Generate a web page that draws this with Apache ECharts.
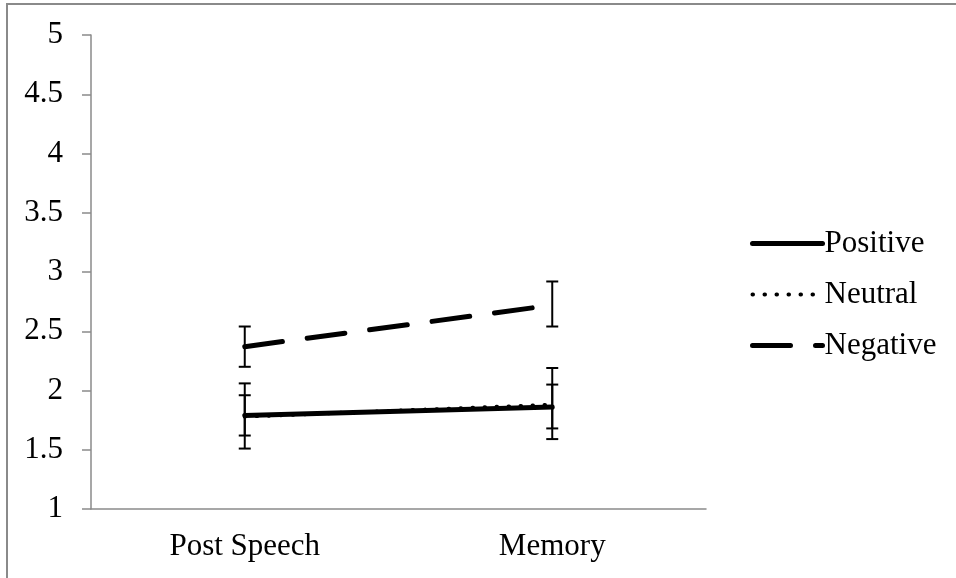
<!DOCTYPE html>
<html>
<head>
<meta charset="utf-8">
<script src="https://cdn.jsdelivr.net/npm/echarts@6/dist/echarts.min.js"></script>
<style>
  html, body { margin: 0; padding: 0; background: #fff; }
  #chart { width: 956px; height: 578px; }
</style>
</head>
<body>
<div id="chart"></div>
<script>
// ---- data ----
const categories = ['Post Speech', 'Memory'];
const seriesNames = ['Positive', 'Neutral', 'Negative'];
const positive = [1.79, 1.86];
const neutral = [1.78, 1.88];
const negative = [2.37, 2.72];
const positiveLow = [1.62, 1.68];
const positiveHigh = [1.96, 2.05];
const neutralLow = [1.51, 1.59];
const neutralHigh = [2.06, 2.19];
const negativeLow = [2.20, 2.54];
const negativeHigh = [2.54, 2.92];
const yMin = 1, yMax = 5, yInterval = 0.5;

const FONT = 'Liberation Serif, Times New Roman, serif';
const AXIS_GREY = '#8a8a8a';

function errData(lows, highs) {
  return categories.map((c, i) => [i, lows[i], highs[i]]);
}

function renderErr(params, api) {
  const x = api.value(0);
  const lo = api.coord([x, api.value(1)]);
  const hi = api.coord([x, api.value(2)]);
  const hw = 6;
  const st = { stroke: '#000', lineWidth: 2 };
  return {
    type: 'group',
    children: [
      { type: 'line', shape: { x1: lo[0], y1: lo[1], x2: hi[0], y2: hi[1] }, style: st },
      { type: 'line', shape: { x1: lo[0] - hw, y1: lo[1], x2: lo[0] + hw, y2: lo[1] }, style: st },
      { type: 'line', shape: { x1: hi[0] - hw, y1: hi[1], x2: hi[0] + hw, y2: hi[1] }, style: st }
    ]
  };
}

const chart = echarts.init(document.getElementById('chart'), null, { renderer: 'canvas' });

const option = {
  animation: false,
  backgroundColor: '#fff',
  textStyle: { fontFamily: FONT },
  graphic: [{
    type: 'polyline',
    shape: { points: [[7, 578], [7, 4], [956, 4]] },
    style: { stroke: AXIS_GREY, lineWidth: 2, fill: null },
    silent: true
  }],
  grid: { left: 91, right: 250, top: 35, bottom: 69 },
  legend: {
    data: seriesNames,
    orient: 'vertical',
    left: 745,
    top: 223,
    itemWidth: 70,
    itemHeight: 14,
    itemGap: 20,
    itemStyle: { opacity: 0 },
    lineStyle: { width: 'inherit', type: 'inherit', cap: 'round' },
    textStyle: { fontFamily: FONT, fontSize: 31, color: '#000', lineHeight: 31, padding: [0, 0, 0, -3] }
  },
  xAxis: {
    type: 'category',
    data: categories,
    boundaryGap: true,
    axisLine: { lineStyle: { color: AXIS_GREY, width: 1.5 } },
    axisTick: { length: 8, lineStyle: { color: AXIS_GREY, width: 1.5 } },
    axisLabel: { fontFamily: FONT, fontSize: 31, color: '#000', margin: 22 },
    splitLine: { show: false }
  },
  yAxis: {
    type: 'value',
    min: yMin,
    max: yMax,
    interval: yInterval,
    axisLine: { show: true, lineStyle: { color: AXIS_GREY, width: 1.5 } },
    axisTick: { show: true, length: 9, lineStyle: { color: AXIS_GREY, width: 1.5 } },
    axisLabel: { fontFamily: FONT, fontSize: 31, color: '#000', margin: 28 },
    splitLine: { show: false }
  },
  series: [
    { type: 'custom', name: 'errPositive', data: errData(positiveLow, positiveHigh), renderItem: renderErr, encode: { x: 0, y: [1, 2] }, z: 1, silent: true },
    { type: 'custom', name: 'errNeutral', data: errData(neutralLow, neutralHigh), renderItem: renderErr, encode: { x: 0, y: [1, 2] }, z: 1, silent: true },
    { type: 'custom', name: 'errNegative', data: errData(negativeLow, negativeHigh), renderItem: renderErr, encode: { x: 0, y: [1, 2] }, z: 1, silent: true },
    {
      type: 'line', name: 'Positive', data: positive, symbol: 'none', z: 3,
      lineStyle: { color: '#000', width: 5, type: 'solid', cap: 'round' },
      itemStyle: { color: '#000' }
    },
    {
      type: 'line', name: 'Neutral', data: neutral, symbol: 'none', z: 4,
      lineStyle: { color: '#000', width: 4, type: [0.5, 11.5], cap: 'round' },
      itemStyle: { color: '#000' }
    },
    {
      type: 'line', name: 'Negative', data: negative, symbol: 'none', z: 3,
      lineStyle: { color: '#000', width: 5, type: [38, 25], cap: 'round' },
      itemStyle: { color: '#000' }
    }
  ]
};

chart.setOption(option);
</script>
</body>
</html>
